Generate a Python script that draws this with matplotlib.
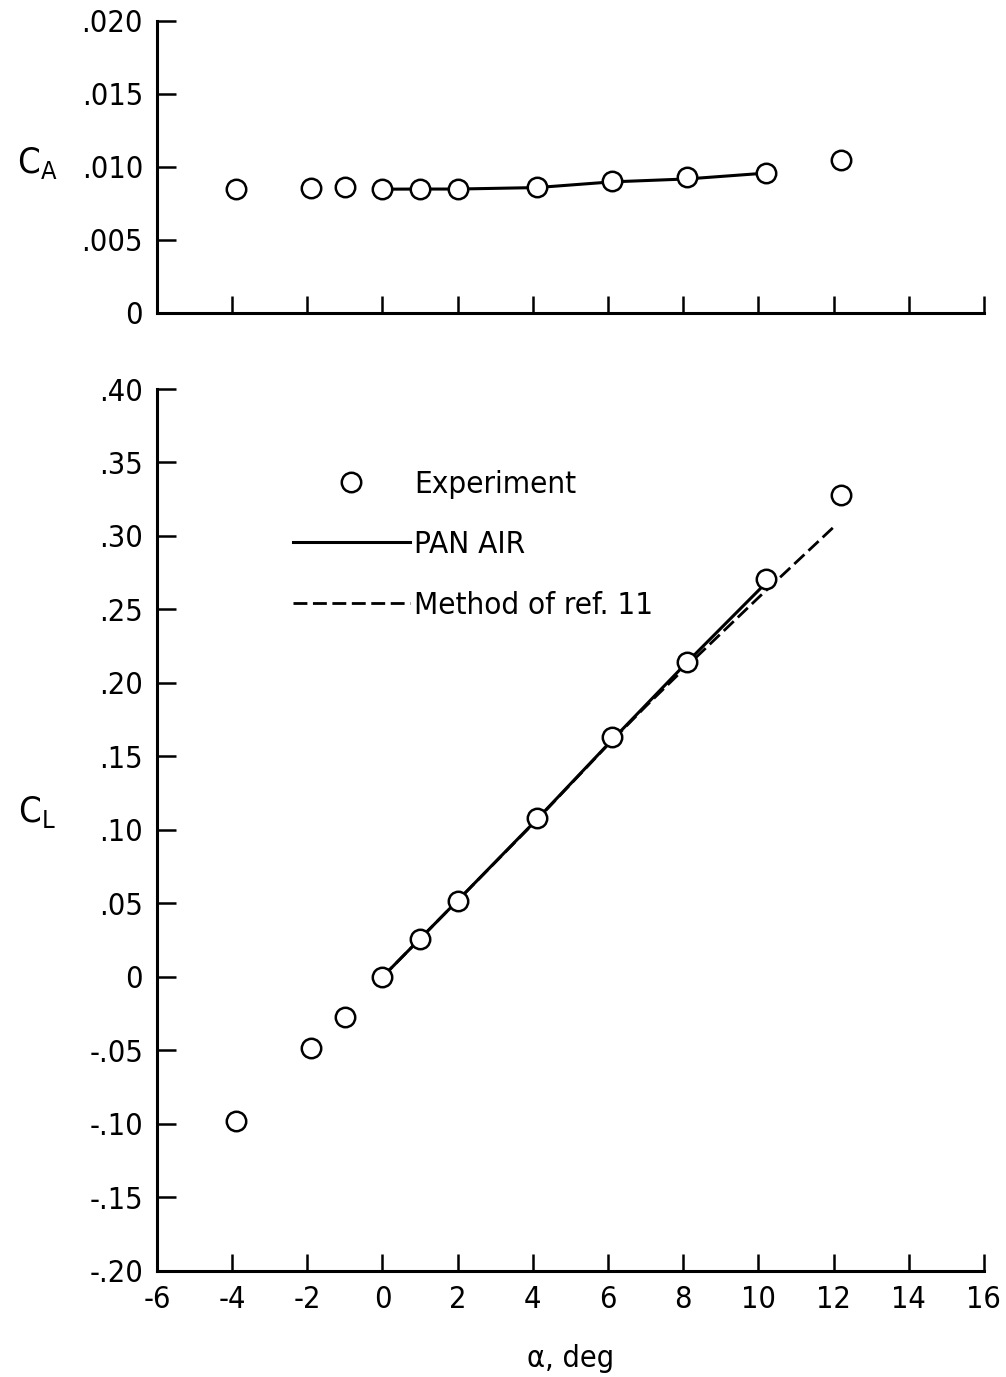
import matplotlib
matplotlib.use('Agg')
import matplotlib.pyplot as plt
from matplotlib.ticker import FixedLocator, FixedFormatter

plt.rcParams['font.family'] = ['DejaVu Sans']
plt.rcParams['font.stretch'] = 'condensed'
plt.rcParams['axes.unicode_minus'] = False

# Experiment
alpha_exp = [-3.9, -1.9, -1.0, 0.0, 1.0, 2.0, 4.1, 6.1, 8.1, 10.2, 12.2]
ca_exp = [0.00847, 0.00854, 0.00865, 0.00847, 0.00847, 0.00847, 0.00865, 0.00906, 0.00927, 0.00957, 0.01048]
cl_exp = [-0.098, -0.048, -0.027, 0.0, 0.026, 0.052, 0.108, 0.163, 0.214, 0.271, 0.328]

# PAN AIR
alpha_pan = [0.0, 1.0, 2.0, 4.1, 6.1, 8.1, 10.2]
ca_pan = [0.00847, 0.00848, 0.00848, 0.00858, 0.00897, 0.00917, 0.00957]
cl_pan = [0.0, 0.026, 0.052, 0.107, 0.161, 0.214, 0.268]

# Method of ref. 11
alpha_ref = [0.0, 2.0, 4.0, 6.0, 7.0, 8.0, 10.0, 12.0]
cl_ref = [0.0, 0.052, 0.104, 0.158, 0.184, 0.209, 0.258, 0.306]

x_ticks = [-6, -4, -2, 0, 2, 4, 6, 8, 10, 12, 14, 16]
x_labels = ['-6', '-4', '-2', '0', '2', '4', '6', '8', '10', '12', '14', '16']
ca_ticks = [0, 0.005, 0.010, 0.015, 0.020]
ca_labels = ['0', '.005', '.010', '.015', '.020']
cl_ticks = [-0.20, -0.15, -0.10, -0.05, 0, 0.05, 0.10, 0.15, 0.20, 0.25, 0.30, 0.35, 0.40]
cl_labels = ['-.20', '-.15', '-.10', '-.05', '0', '.05', '.10', '.15', '.20', '.25', '.30', '.35', '.40']

FS = 22
marker_kw = dict(marker='o', markersize=14, markerfacecolor='white',
                 markeredgecolor='black', markeredgewidth=1.8, linestyle='none')

fig = plt.figure(figsize=(10.06, 13.77), dpi=100)
ax_ca = fig.add_axes([0.156, 0.7727, 0.822, 0.2123])
ax_cl = fig.add_axes([0.156, 0.077, 0.822, 0.6405])

for ax in (ax_ca, ax_cl):
    ax.set_xlim(-6, 16)
    ax.spines['top'].set_visible(False)
    ax.spines['right'].set_visible(False)
    ax.spines['left'].set_linewidth(2.2)
    ax.spines['bottom'].set_linewidth(2.2)
    ax.xaxis.set_major_locator(FixedLocator(x_ticks))
    ax.xaxis.set_major_formatter(FixedFormatter(x_labels))
    ax.tick_params(direction='in', width=1.8, labelsize=FS)
    ax.tick_params(axis='x', length=12)
    ax.tick_params(axis='y', length=14, pad=10)

# CA panel
ax_ca.plot(alpha_pan, ca_pan, color='black', lw=2.2, zorder=2)
ax_ca.plot(alpha_exp, ca_exp, zorder=3, **marker_kw)
ax_ca.set_ylim(0, 0.020)
ax_ca.yaxis.set_major_locator(FixedLocator(ca_ticks))
ax_ca.yaxis.set_major_formatter(FixedFormatter(ca_labels))
ax_ca.tick_params(axis='x', labelbottom=False)
ax_ca.set_ylabel(r'$\mathregular{C_A}$', rotation=0, fontsize=26)
ax_ca.yaxis.set_label_coords(-0.145, 0.45)

# CL panel
ax_cl.plot(alpha_pan, cl_pan, color='black', lw=2.2, zorder=2, label='PAN AIR')
ax_cl.plot(alpha_ref, cl_ref, color='black', lw=2.0, linestyle=(0, (5, 2)),
           zorder=2, label='Method of ref. 11')
ax_cl.plot(alpha_exp, cl_exp, zorder=3, label='Experiment', **marker_kw)
ax_cl.set_ylim(-0.20, 0.40)
ax_cl.yaxis.set_major_locator(FixedLocator(cl_ticks))
ax_cl.yaxis.set_major_formatter(FixedFormatter(cl_labels))
ax_cl.tick_params(axis='x', pad=10)
ax_cl.set_ylabel(r'$\mathregular{C_L}$', rotation=0, fontsize=26)
ax_cl.yaxis.set_label_coords(-0.145, 0.5)
ax_cl.set_xlabel('α, deg', fontsize=FS, labelpad=22)

handles, labels = ax_cl.get_legend_handles_labels()
order = [2, 0, 1]
ax_cl.legend([handles[i] for i in order], [labels[i] for i in order],
             loc='upper left', bbox_to_anchor=(0.13, 0.94), frameon=False,
             fontsize=22.5, handlelength=3.75, handletextpad=0.13, labelspacing=1.0)

fig.savefig('out.png', dpi=100)
